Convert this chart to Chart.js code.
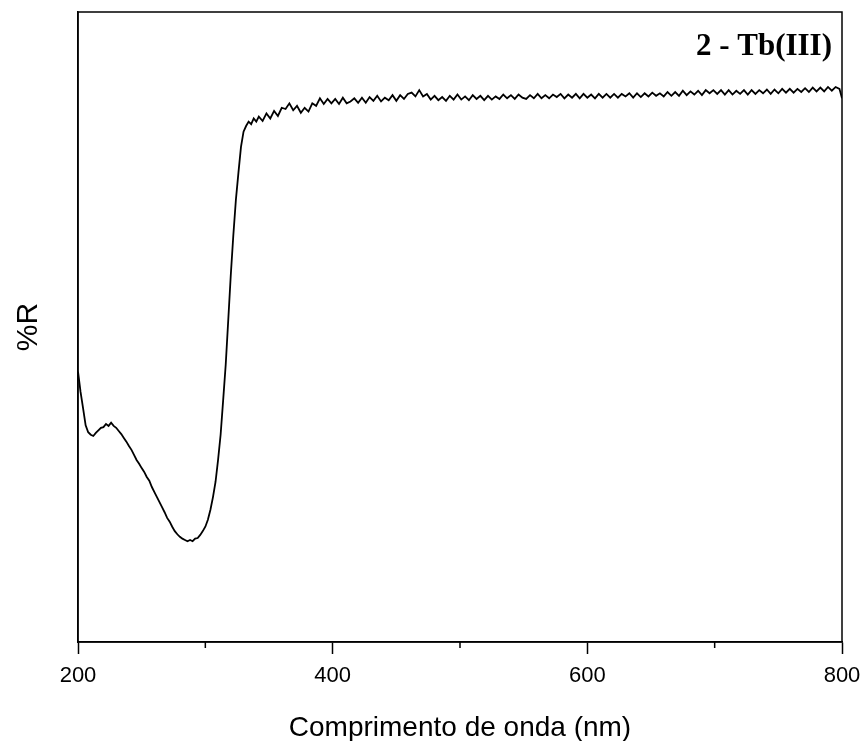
<!DOCTYPE html>
<html>
<head>
<meta charset="utf-8">
<script src="https://cdn.jsdelivr.net/npm/chart.js@4"></script>
<style>
  body { margin: 0; background: #fff; }
  #wrap { width: 866px; height: 741px; }
</style>
</head>
<body>
<div id="wrap"><canvas id="myChart" width="866" height="741"></canvas></div>
<script>
// wavelength (nm)
const wavelengths = [
    200, 202, 204, 206, 208, 210, 212, 214, 216, 218,
    220, 222, 224, 226, 228, 230, 232, 234, 236, 238,
    240, 242, 244, 246, 248, 250, 252, 254, 256, 258,
    260, 262, 264, 266, 268, 270, 272, 274, 276, 278,
    280, 282, 284, 286, 288, 290, 292, 294, 296, 298,
    300, 302, 304, 306, 308, 310, 312, 314, 316, 318,
    320, 322, 324, 326, 328, 330, 332, 334, 336, 338,
    340,
    342, 345, 348, 351, 354, 357, 360, 363, 366, 369,
    372, 375, 378, 381, 384, 387, 390, 393, 396, 399,
    402, 405, 408, 411, 414, 417, 420, 423, 426, 429,
    432, 435, 438, 441, 444, 447, 450, 453, 456, 459,
    462, 465, 468, 471, 474, 477, 480, 483, 486, 489,
    492, 495, 498, 501, 504, 507, 510, 513, 516, 519,
    522, 525, 528, 531, 534, 537, 540, 543, 546, 549,
    552, 555, 558, 561, 564, 567, 570, 573, 576, 579,
    582, 585, 588, 591, 594, 597, 600, 603, 606, 609,
    612, 615, 618, 621, 624, 627, 630, 633, 636, 639,
    642, 645, 648, 651, 654, 657, 660, 663, 666, 669,
    672, 675, 678, 681, 684, 687, 690, 693, 696, 699,
    702, 705, 708, 711, 714, 717, 720, 723, 726, 729,
    732, 735, 738, 741, 744, 747, 750, 753, 756, 759,
    762, 765, 768, 771, 774, 777, 780, 783, 786, 789,
    792, 795, 798, 800
];
// %R (arbitrary scale, axis has no ticks)
const reflectance = [
    42.9, 39.7, 37.1, 34.4, 33.3, 32.9, 32.7, 33.2, 33.6, 34.0,
    34.1, 34.6, 34.3, 34.8, 34.3, 34.0, 33.5, 33.0, 32.4, 31.8,
    31.1, 30.5, 29.7, 28.9, 28.3, 27.6, 27.0, 26.2, 25.6, 24.6,
    23.8, 23.0, 22.2, 21.4, 20.6, 19.7, 19.1, 18.3, 17.6, 17.1,
    16.7, 16.4, 16.2, 16.0, 16.2, 16.0, 16.4, 16.5, 17.0, 17.6,
    18.3, 19.4, 21.0, 23.0, 25.4, 28.9, 32.9, 38.4, 44.0, 51.1,
    58.3, 64.6, 70.2, 74.5, 78.6, 81.0, 81.9, 82.6, 82.2, 83.1,
    82.6,
    83.4, 82.7, 83.9, 83.1, 84.3, 83.5, 84.8, 84.6, 85.5, 84.4,
    85.1, 84.0, 84.8, 84.2, 85.5, 85.1, 86.3, 85.4, 86.2, 85.5,
    86.2, 85.4, 86.4, 85.5, 85.8, 86.3, 85.6, 86.4, 85.6, 86.5,
    85.9, 86.7, 85.8, 86.4, 86.0, 86.8, 85.9, 86.8, 86.2, 87.0,
    87.2, 86.6, 87.6, 86.6, 87.0, 86.1, 86.7, 86.0, 86.5, 85.9,
    86.7, 86.1, 86.9, 86.1, 86.6, 86.0, 86.8, 86.2, 86.7, 86.0,
    86.7, 86.1, 86.6, 86.2, 86.9, 86.3, 86.8, 86.2, 86.9, 86.4,
    86.2, 86.8, 86.3, 87.0, 86.3, 86.8, 86.3, 86.9, 86.5, 87.0,
    86.3, 86.9, 86.4, 87.0, 86.3, 87.0, 86.4, 86.9, 86.3, 87.0,
    86.4, 87.0, 86.4, 87.0, 86.4, 87.0, 86.6, 87.1, 86.4, 87.1,
    86.5, 87.1, 86.6, 87.2, 86.7, 87.1, 86.6, 87.3, 86.7, 87.3,
    86.7, 87.5, 86.8, 87.4, 86.9, 87.5, 86.8, 87.6, 87.1, 87.6,
    87.0, 87.6, 86.9, 87.6, 86.9, 87.5, 87.0, 87.6, 86.9, 87.6,
    87.0, 87.6, 87.1, 87.7, 87.0, 87.7, 87.1, 87.8, 87.2, 87.8,
    87.2, 87.8, 87.3, 87.9, 87.3, 88.0, 87.4, 88.0, 87.4, 88.1,
    87.5, 88.1, 87.8, 86.3
];
const xTicks = [200, 400, 600, 800];
const xMinorTicks = [300, 500, 700];
const sampleLabel = "2 - Tb(III)";

const font = "'Liberation Sans', Arial, sans-serif";

// frame box, short minor ticks and the sample label
const framePlugin = {
    id: "frame",
    afterDraw(chart) {
        const { ctx, chartArea: a, scales: { x } } = chart;
        ctx.save();
        ctx.strokeStyle = "#000";
        ctx.lineWidth = 1.5;
        ctx.strokeRect(a.left, a.top, a.right - a.left, a.bottom - a.top);
        ctx.beginPath();
        xMinorTicks.forEach((v) => {
            const px = x.getPixelForValue(v);
            ctx.moveTo(px, a.bottom);
            ctx.lineTo(px, a.bottom + 6);
        });
        ctx.stroke();
        ctx.font = "bold 31px 'Liberation Serif', 'Times New Roman', serif";
        ctx.textAlign = "right";
        ctx.textBaseline = "alphabetic";
        ctx.fillStyle = "#000";
        ctx.fillText(sampleLabel, a.right - 10, a.top + 43);
        ctx.restore();
    },
};

(function () {
    const ctx = document.getElementById("myChart");
    new Chart(ctx, {
        type: "line",
        data: {
            datasets: [
                {
                    data: wavelengths.map((w, i) => ({ x: w, y: reflectance[i] })),
                    borderColor: "#000",
                    borderWidth: 1.8,
                    pointRadius: 0,
                    tension: 0,
                    fill: false,
                },
            ],
        },
        options: {
            responsive: false,
            animation: false,
            layout: { padding: { top: 12, right: 24, left: 0, bottom: 0 } },
            plugins: {
                legend: { display: false },
                tooltip: { enabled: false },
            },
            scales: {
                x: {
                    type: "linear",
                    min: 200,
                    max: 800,
                    afterBuildTicks: (s) => {
                        s.ticks = xTicks.map((v) => ({ value: v }));
                    },
                    afterFit: (s) => {
                        s.height = 99;
                        s.paddingLeft = 0;
                        s.paddingRight = 0;
                    },
                    grid: {
                        drawOnChartArea: false,
                        drawTicks: true,
                        tickLength: 12,
                        tickColor: "#000",
                        tickWidth: 1.5,
                    },
                    border: { color: "#000", width: 1.5 },
                    ticks: {
                        color: "#000",
                        font: { family: font, size: 22 },
                        padding: 9,
                        maxRotation: 0,
                    },
                    title: {
                        display: true,
                        text: "Comprimento de onda (nm)",
                        color: "#000",
                        font: { family: font, size: 28 },
                        padding: { top: 0, bottom: -4 },
                    },
                },
                y: {
                    min: 0,
                    max: 100,
                    afterFit: (s) => {
                        s.width = 78;
                    },
                    grid: { drawOnChartArea: false, drawTicks: false },
                    border: { color: "#000", width: 1.5 },
                    ticks: { display: false },
                    title: {
                        display: true,
                        text: "%R",
                        color: "#000",
                        font: { family: font, size: 30 },
                        padding: { top: 11, bottom: 0 },
                    },
                },
            },
        },
        plugins: [framePlugin],
    });
})();
</script>
</body>
</html>
